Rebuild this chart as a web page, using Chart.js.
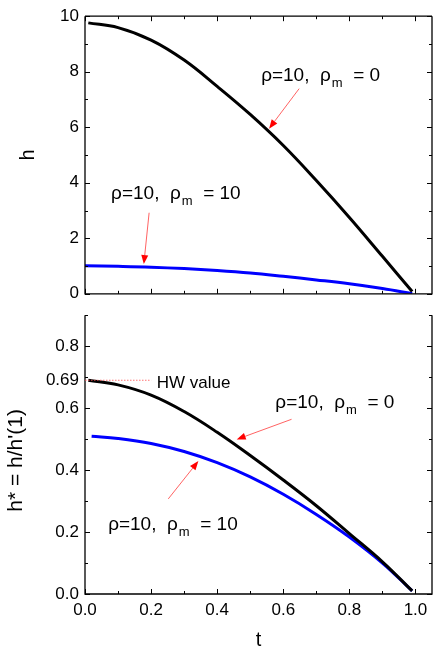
<!DOCTYPE html>
<html>
<head>
<meta charset="utf-8">
<script src="https://cdn.jsdelivr.net/npm/chart.js@4.4.0/dist/chart.umd.min.js"></script>
<style>
  body { margin: 0; background: #fff; }
  #wrap { position: relative; width: 436px; height: 652px; }
  #topChart { position: absolute; left: 0; top: 0; }
  #botChart { position: absolute; left: 0; top: 299px; }
</style>
</head>
<body>
<div id="wrap">
  <canvas id="topChart" width="436" height="310"></canvas>
  <canvas id="botChart" width="436" height="353"></canvas>
</div>
<script>
// values
const tBlack    = [0.01, 0.1, 0.2, 0.3, 0.4, 0.5, 0.6, 0.7, 0.8, 0.9, 0.99];
const tBlueTop  = [0.0, 0.1, 0.2, 0.3, 0.4, 0.5, 0.6, 0.7, 0.8, 0.9, 0.99];
const tBlueBot  = [0.02, 0.1, 0.2, 0.3, 0.4, 0.5, 0.6, 0.7, 0.8, 0.9, 0.99];

const hBlackTop  = [9.76, 9.59, 9.14, 8.42, 7.47, 6.46, 5.34, 4.08, 2.75, 1.35, 0.08];
const hBlueTop   = [1.01, 0.99, 0.96, 0.91, 0.84, 0.75, 0.63, 0.50, 0.36, 0.19, 0.01];
const hsBlackBot = [0.690, 0.675, 0.642, 0.589, 0.522, 0.447, 0.368, 0.285, 0.195, 0.104, 0.010];
const hsBlueBot  = [0.509, 0.502, 0.486, 0.460, 0.424, 0.378, 0.322, 0.257, 0.184, 0.100, 0.010];

// tick labels
const xTicks    = [0, 0.2, 0.4, 0.6, 0.8, 1.0];
const topYTicks = [0, 2, 4, 6, 8, 10];
const botYTicks = [0, 0.2, 0.4, 0.6, 0.69, 0.8];

const FONT = "'Liberation Sans', Arial, sans-serif";
Chart.defaults.font.family = FONT;
Chart.defaults.font.size = 17;
Chart.defaults.color = '#000';

function pts(ts, vs) {
  return ts.map((t, i) => ({ x: t, y: vs[i] }));
}

function curve(ts, vs, color) {
  return {
    data: pts(ts, vs),
    borderColor: color,
    borderWidth: 3,
    pointRadius: 0,
    fill: false,
    tension: 0.4
  };
}

// --- little drawing helpers ---
function rhoLabel(ctx, x, y, rm) {
  ctx.fillStyle = '#000';
  ctx.textAlign = 'left';
  ctx.textBaseline = 'alphabetic';
  ctx.font = '19px ' + FONT;
  let s = 'ρ=10,  ρ';
  ctx.fillText(s, x, y);
  x += ctx.measureText(s).width;
  ctx.font = '13px ' + FONT;
  ctx.fillText('m', x + 1, y + 6);
  x += ctx.measureText('m').width + 1;
  ctx.font = '19px ' + FONT;
  ctx.fillText('  = ' + rm, x, y);
}

function arrow(ctx, x0, y0, x1, y1) {
  const a = Math.atan2(y1 - y0, x1 - x0);
  const L = 9, W = 3.5;
  const bx = x1 - L * Math.cos(a), by = y1 - L * Math.sin(a);
  ctx.strokeStyle = 'rgba(255,60,60,0.8)';
  ctx.lineWidth = 1;
  ctx.beginPath();
  ctx.moveTo(x0, y0);
  ctx.lineTo(bx, by);
  ctx.stroke();
  ctx.fillStyle = '#ff0000';
  ctx.beginPath();
  ctx.moveTo(x1, y1);
  ctx.lineTo(bx + W * Math.sin(a), by - W * Math.cos(a));
  ctx.lineTo(bx - W * Math.sin(a), by + W * Math.cos(a));
  ctx.closePath();
  ctx.fill();
}

// frame with inward ticks (major + minor), like the original plot
function framePlugin(yStep, yCount, yMajorEvery, drawTop) {
  return {
    id: 'frame',
    afterDraw(chart) {
      const { ctx, chartArea: a, scales } = chart;
      const x = scales.x, y = scales.y;
      ctx.save();
      ctx.strokeStyle = '#000';
      ctx.lineWidth = 1.3;
      ctx.beginPath();
      if (drawTop) {
        ctx.moveTo(a.left, a.top); ctx.lineTo(a.right, a.top);
      }
      ctx.moveTo(a.left, a.top); ctx.lineTo(a.left, a.bottom);
      ctx.lineTo(a.right, a.bottom); ctx.lineTo(a.right, a.top);
      ctx.stroke();

      ctx.lineWidth = 1;
      ctx.beginPath();
      for (let i = 0; i <= 10; i++) {
        const px = Math.round(x.getPixelForValue(i / 10)) + 0.5;
        const len = i % 2 === 0 ? 5 : 3;
        ctx.moveTo(px, a.bottom); ctx.lineTo(px, a.bottom - len);
        if (drawTop) { ctx.moveTo(px, a.top); ctx.lineTo(px, a.top + len); }
      }
      for (let i = 0; i <= yCount; i++) {
        const py = Math.round(y.getPixelForValue(i * yStep)) + 0.5;
        const len = i % yMajorEvery === 0 ? 5 : 3;
        ctx.moveTo(a.left, py); ctx.lineTo(a.left + len, py);
        ctx.moveTo(a.right, py); ctx.lineTo(a.right - len, py);
      }
      ctx.stroke();
      ctx.restore();
    }
  };
}

function notesPlugin(labels, arrows, extra) {
  return {
    id: 'notes',
    afterDraw(chart) {
      const { ctx, scales } = chart;
      const X = v => scales.x.getPixelForValue(v);
      const Y = v => scales.y.getPixelForValue(v);
      ctx.save();
      labels.forEach(l => rhoLabel(ctx, X(l.t), Y(l.h), l.rm));
      arrows.forEach(r => arrow(ctx, X(r.from[0]), Y(r.from[1]), X(r.to[0]), Y(r.to[1])));
      if (extra) extra(ctx, X, Y);
      ctx.restore();
    }
  };
}

// --- top panel: h ---
new Chart(document.getElementById('topChart'), {
  type: 'line',
  data: {
    datasets: [
      curve(tBlack, hBlackTop, '#000000'),
      curve(tBlueTop, hBlueTop, '#0000ff')
    ]
  },
  options: {
    responsive: false,
    animation: false,
    devicePixelRatio: 1,
    layout: { padding: { top: 12, right: 4, bottom: 7, left: 0 } },
    plugins: { legend: { display: false }, tooltip: { enabled: false } },
    scales: {
      x: { type: 'linear', min: 0, max: 1.05, display: false },
      y: {
        type: 'linear', min: 0, max: 10,
        afterBuildTicks: s => { s.ticks = topYTicks.map(v => ({ value: v })); },
        afterFit: s => { s.width = 85; },
        grid: { display: false, drawTicks: false },
        border: { display: false },
        ticks: { padding: 6, autoSkip: false },
        title: { display: true, text: 'h', font: { size: 20 }, padding: { top: 16, bottom: 0 } }
      }
    }
  },
  plugins: [
    framePlugin(1, 10, 2, true),
    notesPlugin(
      [{ t: 0.533, h: 7.66, rm: '0' }, { t: 0.079, h: 3.40, rm: '10' }],
      [{ from: [0.648, 7.39], to: [0.557, 5.95] }, { from: [0.194, 2.92], to: [0.178, 1.07] }]
    )
  ]
});

// --- bottom panel: h* ---
new Chart(document.getElementById('botChart'), {
  type: 'line',
  data: {
    datasets: [
      curve(tBlack, hsBlackBot, '#000000'),
      curve(tBlueBot, hsBlueBot, '#0000ff')
    ]
  },
  options: {
    responsive: false,
    animation: false,
    devicePixelRatio: 1,
    layout: { padding: { top: 4, right: 4, bottom: 0, left: 0 } },
    plugins: { legend: { display: false }, tooltip: { enabled: false } },
    scales: {
      x: {
        type: 'linear', min: 0, max: 1.05,
        afterBuildTicks: s => { s.ticks = xTicks.map(v => ({ value: v })); },
        afterFit: s => { s.height = 58; },
        grid: { display: false, drawTicks: false },
        border: { display: false },
        ticks: { padding: 6, autoSkip: false, maxRotation: 0, callback: v => v.toFixed(1) },
        title: { display: true, text: 't', font: { size: 20 }, padding: { top: 0, bottom: 0 } }
      },
      y: {
        type: 'linear', min: 0, max: 0.9,
        afterBuildTicks: s => { s.ticks = botYTicks.map(v => ({ value: v })); },
        afterFit: s => { s.width = 85; },
        grid: { display: false, drawTicks: false },
        border: { display: false },
        ticks: { padding: 6, autoSkip: false, callback: v => (v === 0.69 ? '0.69' : v.toFixed(1)) },
        title: { display: true, text: "h* = h/h'(1)  ", font: { size: 21 }, padding: { top: 4, bottom: 0 } }
      }
    }
  },
  plugins: [
    framePlugin(0.1, 9, 2, false),
    notesPlugin(
      [{ t: 0.576, h: 0.599, rm: '0' }, { t: 0.070, h: 0.205, rm: '10' }],
      [{ from: [0.625, 0.564], to: [0.459, 0.499] }, { from: [0.252, 0.307], to: [0.343, 0.429] }],
      (ctx, X, Y) => {
        // HW value marker
        ctx.strokeStyle = 'rgba(255,80,80,0.8)';
        ctx.lineWidth = 1;
        ctx.setLineDash([1.5, 1.5]);
        ctx.beginPath();
        ctx.moveTo(X(0), Y(0.69));
        ctx.lineTo(X(0.2), Y(0.69));
        ctx.stroke();
        ctx.setLineDash([]);
        ctx.fillStyle = '#000';
        ctx.font = '17px ' + FONT;
        ctx.textAlign = 'left';
        ctx.textBaseline = 'alphabetic';
        ctx.fillText('HW value', X(0.217), Y(0.664));
      }
    )
  ]
});
</script>
</body>
</html>
